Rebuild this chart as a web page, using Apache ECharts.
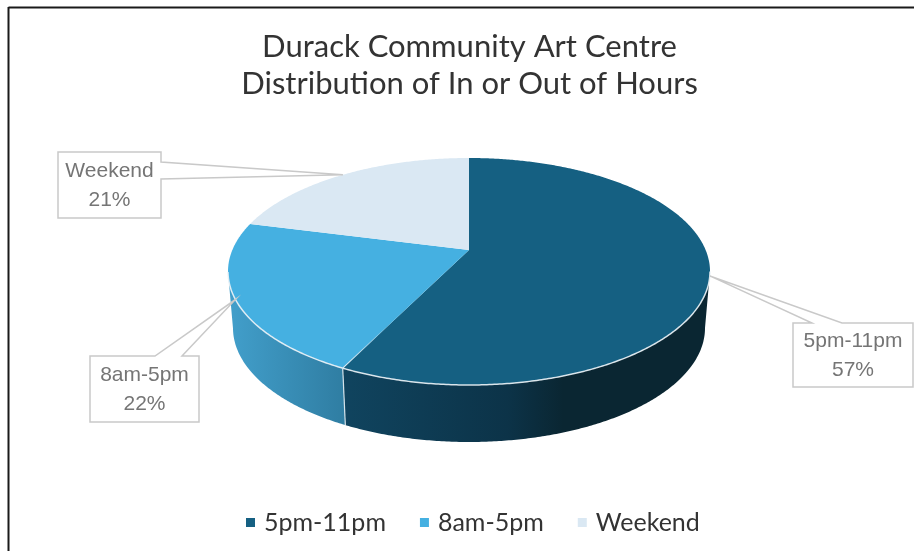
<!DOCTYPE html>
<html>
<head>
<meta charset="utf-8">
<style>
  html, body { margin: 0; padding: 0; background: #fff; }
  #main { width: 914px; height: 551px; }
</style>
<script src="https://cdn.jsdelivr.net/npm/echarts@6/dist/echarts.min.js"></script>
</head>
<body>
<div id="main"></div>
<script>
// data
var categories = ['5pm-11pm', '8am-5pm', 'Weekend']
var values = [57.3, 21.7, 21]
var titleLines = ['Durack Community Art Centre', 'Distribution of In or Out of Hours']

// look of the slices
var topColors = ['#156082', '#45b0e1', '#dae8f3']
var wallColors = [
  [{ offset: 0, color: '#10445f' }, { offset: 0.45, color: '#0c3348' }, { offset: 0.6, color: '#0a2632' }, { offset: 1, color: '#0a2632' }],
  [{ offset: 0, color: '#429fcb' }, { offset: 1, color: '#2f7da2' }],
  null
]
// callout boxes and where the wedge leaves the box
var boxes = [
  { x: 793, y: 323, w: 120, h: 64, wedge: [[842, 323], [812, 323]] },
  { x: 90, y: 356, w: 109, h: 66, wedge: [[182, 356], [155, 356]] },
  { x: 58, y: 152, w: 103, h: 66, wedge: [[161, 179], [161, 162]] }
]

// pie geometry, tilted disc seen in perspective
var cx = 469, cy = 271.5, rx = 241, ry = 113.5
var bx = 236, by = 328, bry = 114 // bottom rim
var tilt = -0.19 // moves the apex of the slices away from the ellipse centre

var total = values.reduce(function (a, b) { return a + b }, 0)

// clockwise angle from 12 o'clock -> unit point on the tilted disc
function rimPoint (deg) {
  var t = deg * Math.PI / 180
  var x = Math.sin(t), y = -Math.cos(t)
  var d = 1 + tilt * y
  return [x * Math.sqrt(1 - tilt * tilt) / d, (y + tilt) / d]
}
function topXY (p) { return [cx + rx * p[0], cy + ry * p[1]] }
function bottomXY (p) { return [cx + bx * p[0], by + bry * p[1]] }

function renderSlice (index) {
  return function (params, api) {
    var before = 0
    for (var i = 0; i < index; i++) before += values[i]
    var value = api.value(0)
    var start = before / total * 360
    var end = (before + value) / total * 360

    var rim = []
    for (var a = start; a < end; a += 0.5) rim.push(rimPoint(a))
    rim.push(rimPoint(end))

    var front = rim.filter(function (p) { return p[1] >= 0 })
    var apex = topXY([0, tilt])
    var children = []

    if (front.length > 1 && wallColors[index]) {
      var wall = front.map(topXY).concat(front.slice().reverse().map(bottomXY))
      var xs = wall.map(function (p) { return p[0] })
      children.push({
        type: 'polygon',
        shape: { points: wall },
        style: {
          fill: new echarts.graphic.LinearGradient(
            Math.min.apply(null, xs), 0, Math.max.apply(null, xs), 0, wallColors[index], true
          )
        }
      })
    }

    children.push({
      type: 'polygon',
      shape: { points: [apex].concat(rim.map(topXY)) },
      style: { fill: topColors[index] }
    })

    if (front.length > 1) {
      // thin light bevel on the front rim and on the wall seam
      children.push({
        type: 'polyline',
        shape: { points: front.map(topXY) },
        style: { fill: null, stroke: 'rgba(235,242,246,0.9)', lineWidth: 1.5 }
      })
      if (index === 1) {
        var seam = topXY(front[0])
        var seamBottom = bottomXY(front[0])
        children.push({
          type: 'line',
          shape: { x1: seam[0], y1: seam[1], x2: seamBottom[0], y2: seamBottom[1] },
          style: { stroke: 'rgba(235,242,246,0.85)', lineWidth: 1.2 }
        })
        // the same bevel runs up the spoke and fades out
        children.push({
          type: 'line',
          z2: 5,
          shape: { x1: seam[0], y1: seam[1], x2: apex[0], y2: apex[1] },
          style: {
            lineWidth: 1.2,
            stroke: new echarts.graphic.LinearGradient(seam[0], seam[1], apex[0], apex[1], [
              { offset: 0, color: 'rgba(235,242,246,0.9)' },
              { offset: 0.35, color: 'rgba(235,242,246,0)' }
            ], true)
          }
        })
      }
    }

    // callout
    var b = boxes[index]
    var tip = topXY(rimPoint((start + end) / 2))
    var outline
    if (b.wedge[0][0] === b.x + b.w && b.wedge[0][1] > b.y) {
      // wedge on the right side of the box
      outline = [[b.x, b.y], [b.x + b.w, b.y], b.wedge[1], tip, b.wedge[0], [b.x + b.w, b.y + b.h], [b.x, b.y + b.h]]
    } else {
      // wedge on the top side of the box
      outline = [[b.x, b.y], b.wedge[1], tip, b.wedge[0], [b.x + b.w, b.y], [b.x + b.w, b.y + b.h], [b.x, b.y + b.h]]
    }
    children.push({
      type: 'polygon',
      z2: 10,
      shape: { points: outline },
      style: { fill: '#fff', stroke: '#c9c9c9', lineWidth: 1.5 }
    })
    children.push({
      type: 'text',
      z2: 11,
      style: {
        text: categories[index] + '\n' + Math.round(value / total * 100) + '%',
        x: b.x + b.w / 2,
        y: b.y + b.h / 2 + 1,
        align: 'center',
        verticalAlign: 'middle',
        fill: '#757575',
        font: '21px "Liberation Sans"',
        lineHeight: 29
      }
    })

    return { type: 'group', children: children }
  }
}

var myChart = echarts.init(document.getElementById('main'), null, { renderer: 'canvas' })

var series = categories.map(function (name, i) {
  return {
    name: name,
    type: 'custom',
    coordinateSystem: 'none',
    itemStyle: { color: topColors[i] },
    animation: false,
    renderItem: renderSlice(i),
    data: [values[i]]
  }
})

myChart.setOption({
  backgroundColor: '#fff',
  animation: false,
  title: {
    text: titleLines.join('\n'),
    left: 464.5,
    textAlign: 'center',
    top: 23,
    textStyle: {
      color: '#333333',
      fontFamily: 'Lato',
      fontWeight: 400,
      fontSize: 31,
      lineHeight: 37
    }
  },
  legend: {
    data: categories,
    bottom: 11,
    left: 241,
    icon: 'rect',
    itemWidth: 9,
    itemHeight: 9,
    itemGap: 34,
    textStyle: { color: '#333333', fontFamily: 'Lato', fontSize: 25, padding: [0, 0, 0, 4] }
  },
  graphic: [
    { type: 'line', shape: { x1: 8.5, y1: 7.5, x2: 914, y2: 7.5 }, style: { stroke: '#1a1a1a', lineWidth: 2 } },
    { type: 'line', shape: { x1: 8.5, y1: 7, x2: 8.5, y2: 551 }, style: { stroke: '#1a1a1a', lineWidth: 2 } }
  ],
  series: series
})
</script>
</body>
</html>
